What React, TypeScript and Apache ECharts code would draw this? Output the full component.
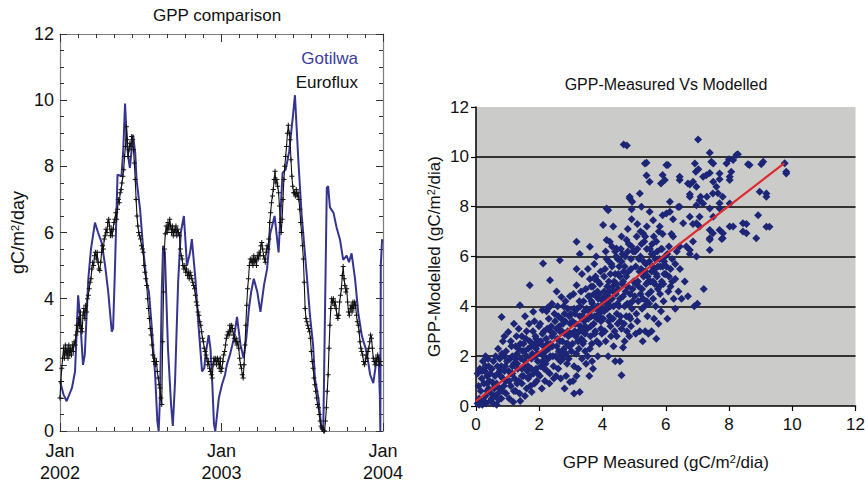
import React, { useEffect, useRef } from 'react';
import * as echarts from 'echarts';

// Left panel: daily GPP (day index from Jan 2002, gC/m2/day)
const gotilwa: [number, number][] = [
  [0,1.5],[8,1.1],[15,0.9],[27,1.3],[34,1.8],[41,4.1],[45,3.5],[52,2.0],[56,2.3],[64,4.6],[70,5.5],[79,6.3],[86,6.0],[94,5.7],[102,5.0],[109,4.2],[117,3.0],[120,3.1],[124,4.8],[130,7.75],[139,7.7],[143,8.5],[147,9.9],[151,8.8],[154,8.3],[158,7.95],[165,8.95],[170,8.4],[173,7.6],[181,6.7],[188,5.5],[196,4.5],[201,4.2],[207,3.2],[215,1.7],[220,0.3],[223,0],[226,1.0],[230,4.2],[233,5.6],[237,5.4],[244,2.5],[251,0.8],[255,0.15],[260,1.5],[267,4.5],[273,6.0],[280,6.5],[287,5.0],[294,5.4],[298,5.8],[306,4.6],[313,3.2],[321,1.8],[326,1.9],[330,2.4],[336,2.9],[340,2.5],[344,1.5],[348,0.2],[351,0],[359,1.0],[366,1.4],[373,1.7],[377,2.0],[384,2.3],[393,2.8],[400,3.45],[408,2.6],[415,2.2],[421,2.8],[427,3.7],[432,4.2],[438,4.6],[446,4.2],[453,3.6],[461,4.4],[468,4.9],[475,5.96],[485,6.5],[494,5.4],[503,7.8],[510,7.9],[518,8.45],[527,9.6],[531,10.15],[539,8.1],[546,6.56],[558,4.67],[565,3.48],[572,2.6],[576,1.6],[584,1.0],[591,0.05],[595,0],[603,7.35],[606,7.4],[610,6.76],[618,6.6],[625,6.16],[633,5.77],[640,5.17],[648,5.3],[653,5.1],[659,5.37],[667,4.58],[674,3.58],[682,2.89],[693,2.39],[701,1.7],[708,1.45],[716,2.2],[720,2.27],[723,1.0],[724,0],[725,5.0],[728,5.8]
];

const euroflux: [number, number][] = [
  [0,1.0],[2,1.5],[4,1.9],[6,2.2],[8,2.5],[10,2.2],[12,2.6],[14,2.3],[16,2.5],[18,2.2],[20,2.6],[22,2.3],[24,2.5],[26,2.3],[28,2.6],[30,2.4],[32,2.7],[34,2.6],[36,2.9],[38,3.2],[40,3.0],[42,3.4],[44,3.2],[46,3.6],[48,3.1],[50,3.0],[52,3.5],[54,3.7],[56,3.4],[58,3.8],[60,3.6],[62,4.0],
  [64,4.1],[66,4.3],[68,4.5],[70,4.6],[72,4.9],[74,5.1],[76,5.0],[78,5.3],[80,5.4],[82,5.2],[84,5.4],[86,5.1],[88,4.9],[90,4.85],[92,5.1],[94,5.4],[96,5.6],[98,5.5],
  [100,5.8],[102,5.9],[104,6.1],[106,6.0],[108,6.3],[110,6.4],[112,6.2],[114,5.9],[116,6.1],[118,5.9],[120,6.1],[122,6.3],[124,6.4],[126,6.6],[128,6.4],[130,6.7],[132,7.0],[134,6.9],[136,7.2],[138,7.3],[140,7.5],[142,7.7],[144,7.9],[146,8.3],[148,8.6],[150,9.2],[152,8.8],[154,8.3],
  [156,8.5],[158,8.7],[160,8.6],[162,8.9],[164,8.8],[166,8.5],[168,8.1],[170,7.6],[172,7.0],[174,6.5],[176,6.2],[178,6.0],[180,5.9],[182,5.8],[184,5.6],[186,5.5],[188,5.4],[190,5.0],[192,4.8],[194,4.6],[196,4.4],[198,4.0],[200,3.7],[202,3.4],[204,3.1],[206,2.9],[208,2.6],[210,2.3],[212,2.1],[214,2.2],[216,2.0],[218,2.1],[220,1.8],[222,1.6],[224,1.4],[226,1.3],[228,1.0],[230,0.8],[232,2.7],[234,4.2],[236,5.5],
  [238,5.96],[240,6.2],[242,6.0],[244,6.3],[246,6.1],[248,6.4],[250,6.2],[252,6.0],[254,6.2],[256,5.9],[258,6.1],[260,6.0],[262,6.2],[264,5.9],[266,6.1],[268,6.0],[270,5.9],[272,5.5],[274,5.3],[276,5.2],[278,5.0],[280,4.9],[282,5.0],[284,4.8],[286,4.9],[288,4.7],[290,4.8],[292,4.6],[294,4.8],[296,4.7],[298,4.6],
  [300,4.5],[302,4.4],[304,4.3],[306,4.1],[308,3.9],[310,3.8],[312,3.6],[314,3.5],[316,3.3],[318,3.2],[320,3.0],[322,2.8],[324,2.7],[326,2.5],[328,2.4],[330,2.3],[332,2.2],[334,2.0],[336,2.1],[338,1.9],[340,1.8],[342,1.7],[344,1.6],[346,2.0],[348,2.2],[350,2.1],[352,2.2],[354,2.0],[356,2.2],[358,2.1],[360,1.9],[362,2.2],[364,1.8],[366,1.9],[368,2.1],[370,2.3],[372,2.4],[374,2.6],[376,2.8],[378,2.9],[380,3.0],[382,2.9],[384,3.2],[386,3.0],[388,3.2],[390,3.1],[392,2.9],[394,2.8],[396,2.7],[398,2.8],[400,2.6],[402,2.7],[404,2.5],[406,2.2],[408,2.0],[410,1.9],[412,1.7],[414,1.6],[416,2.0],[418,2.6],[420,3.2],[422,3.8],
  [424,4.3],[426,4.6],[428,5.0],[430,5.2],[432,5.1],[434,5.2],[436,5.0],[438,5.3],[440,5.1],[442,5.2],[444,5.0],[446,5.3],[448,5.2],[450,5.4],[452,5.3],[454,5.6],[456,5.7],[458,5.5],[460,5.3],[462,5.2],[464,5.1],[466,5.4],[468,5.6],[470,5.5],[472,5.8],[474,6.3],[476,6.6],[478,6.9],[480,7.1],[482,7.3],[484,7.6],[486,7.85],[488,7.5],[490,7.6],[492,7.4],[494,7.2],[496,6.8],[498,6.3],[500,6.0],[502,6.4],
  [504,7.0],[506,7.6],[508,8.0],[510,8.3],[512,8.6],[514,9.0],[516,9.24],[518,9.0],[520,8.8],[522,8.2],[524,7.7],[526,7.4],[528,7.2],[530,7.2],[532,7.1],[534,7.3],[536,7.1],[538,7.2],[540,7.0],[542,6.7],[544,6.3],[546,6.0],[548,5.6],[550,5.2],[552,4.5],[554,3.7],[556,3.4],[558,3.3],[560,3.2],[562,3.1],[564,3.0],[566,2.8],[568,2.4],
  [570,2.1],[572,1.9],[574,1.6],[576,1.4],[578,1.2],[580,1.0],[582,0.8],[584,0.7],[586,0.5],[588,0.3],[590,0.15],[592,0.1],[594,0.05],[596,0],[598,0],[600,0.3],[602,0.7],[604,1.2],[606,1.7],[608,2.5],[610,3.2],[612,3.7],[614,4.0],[616,3.9],[618,4.0],[620,3.8],[622,3.9],[624,3.7],[626,3.5],[628,3.4],[630,3.5],[632,3.9],[634,4.1],[636,4.3],[638,4.7],[640,4.97],[642,4.6],
  [644,4.4],[646,4.2],[648,4.3],[650,3.9],[652,3.6],[654,3.5],[656,3.7],[658,3.8],[660,3.6],[662,3.9],[664,3.7],[666,3.9],[668,3.8],[670,3.5],[672,3.3],[674,3.2],[676,3.0],[678,2.7],[680,2.5],[682,2.4],[684,2.3],[686,2.1],[688,2.0],[690,2.1],[692,2.3],[694,2.2],[696,2.4],[698,2.5],[700,2.7],[702,2.9],[704,2.8],[706,2.5],[708,2.2],[710,2.1],[712,2.0],[714,2.2],[716,2.1],[718,2.3],[720,2.2],[722,2.0],[724,2.1]
];

const yearTickLabels = ['Jan\n2002', 'Jan\n2003', 'Jan\n2004'];

// Right panel: measured vs modelled GPP (gC/m2/dia)
const measuredVsModelled: [number, number][] = [
  [0.05,0.1],[0.1,0.3],[0.15,0.6],[0.2,0.05],[0.25,0.9],[0.3,0.4],[0.35,1.2],[0.4,0.7],[0.45,0.2],[0.08,0.8],[0.12,1.5],[0.18,1.1],[0.22,1.8],[0.28,1.4],[0.32,0.1],[0.38,1.9],[0.42,1.0],[0.48,0.5],[0.05,1.3],[0.3,2.0],[0.15,0.2],[0.4,1.6],[0.45,1.3],[0.1,0.05],[0.35,0.6],[0.25,0.2],
  [0.55,0.1],[0.6,0.4],[0.65,0.9],[0.7,1.3],[0.75,0.7],[0.8,1.6],[0.85,1.1],[0.9,2.0],[0.95,0.5],[0.55,1.8],[0.6,1.2],[0.65,0.05],[0.7,2.3],[0.75,1.9],[0.8,0.3],[0.85,2.6],[0.9,1.4],[0.95,1.0],[0.58,0.7],[0.68,1.6],[0.78,1.2],[0.88,0.8],[0.98,1.8],[0.62,2.0],[0.72,0.25],[0.82,2.1],[0.92,1.6],[0.52,0.95],[0.9,2.8],[0.81,3.57],
  [0.2,1.4],[0.35,0.9],[0.5,1.5],[0.6,0.8],[0.75,1.4],[0.85,0.6],[0.95,2.2],[0.5,0.3],[0.3,1.6],[0.7,0.5],
  [1.02,2.97],[1.05,0.3],[1.1,0.8],[1.15,1.3],[1.2,1.7],[1.25,0.6],[1.3,2.1],[1.35,1.0],[1.4,2.5],[1.45,1.5],[1.39,4.04],[1.08,1.9],[1.12,2.4],[1.18,0.16],[1.22,1.1],[1.28,2.8],[1.32,1.5],[1.38,0.5],[1.42,1.9],[1.48,2.2],[1.03,1.4],[1.15,2.0],[1.25,2.4],[1.35,3.1],[1.45,0.9],[1.5,1.2],[1.1,2.6],[1.3,0.9],[1.2,3.3],[1.45,2.8],
  [1.52,1.6],[1.55,0.4],[1.6,2.0],[1.65,1.1],[1.7,2.6],[1.75,1.5],[1.8,3.0],[1.85,0.9],[1.9,2.3],[1.95,1.8],[1.7,4.85],[1.81,3.78],[1.76,0.56],[1.58,2.7],[1.62,1.4],[1.68,3.3],[1.72,0.8],[1.78,2.1],[1.82,1.3],[1.88,2.8],[1.92,1.0],[1.98,2.5],[1.55,3.6],[1.65,2.3],[1.75,1.9],[1.85,3.4],[1.95,2.1],[1.6,0.7],[1.9,1.5],[1.99,3.2],[1.53,2.2],[1.87,2.0],
  [1.05,1.0],[1.15,1.6],[1.25,1.9],[1.35,2.3],[1.45,1.2],[1.55,1.8],[1.65,1.6],[1.75,2.4],[1.85,2.5],[1.95,1.3],[1.1,1.3],[1.3,1.7],[1.5,2.5],[1.7,1.2],[1.9,2.7],[1.6,3.0],[1.4,0.2],[1.2,0.6],
  [2.02,1.2],[2.05,2.6],[2.1,1.8],[2.15,3.0],[2.2,2.2],[2.25,1.4],[2.3,3.5],[2.35,2.0],[2.4,2.8],[2.45,1.6],[2.34,5.05],[2.31,3.95],[2.12,5.72],[2.08,0.7],[2.18,1.0],[2.22,2.7],[2.28,1.9],[2.32,0.9],[2.38,3.2],[2.42,2.4],[2.48,3.7],[2.03,3.3],[2.13,2.4],[2.23,3.8],[2.33,1.3],[2.43,2.0],[2.06,2.1],[2.16,1.5],[2.26,2.5],[2.36,3.0],[2.46,1.1],[2.27,3.95],[2.1,3.85],[2.4,4.1],
  [2.52,2.0],[2.55,3.1],[2.6,1.5],[2.65,2.6],[2.7,3.5],[2.75,1.9],[2.8,2.9],[2.85,1.2],[2.9,3.9],[2.95,2.4],[2.7,4.37],[2.6,3.6],[2.65,5.85],[2.97,0.96],[2.58,4.0],[2.62,2.2],[2.68,1.1],[2.72,3.0],[2.78,2.3],[2.82,3.4],[2.88,1.7],[2.92,2.8],[2.98,3.3],[2.53,1.2],[2.63,3.2],[2.73,2.6],[2.83,4.2],[2.93,1.9],[2.57,2.7],[2.67,1.8],[2.77,4.0],[2.87,2.5],[2.97,4.4],[2.8,0.7],[2.55,4.6],[2.9,3.0],
  [2.05,1.6],[2.15,2.0],[2.25,3.1],[2.35,2.5],[2.45,2.9],[2.55,2.4],[2.65,3.0],[2.75,3.3],[2.85,2.1],[2.95,3.6],[2.1,2.9],[2.3,2.3],[2.5,3.4],[2.7,2.1],[2.9,2.5],[2.2,1.7],[2.6,1.9],[2.8,3.7],
  [3.02,2.2],[3.05,3.4],[3.1,1.6],[3.15,2.8],[3.2,3.9],[3.25,2.3],[3.3,3.2],[3.35,1.9],[3.4,4.2],[3.45,2.9],[3.18,4.85],[3.28,0.56],[3.1,0.5],[3.18,6.59],[3.28,6.1],[3.18,5.5],[3.08,4.5],[3.12,3.0],[3.18,1.2],[3.22,2.6],[3.28,3.6],[3.32,4.6],[3.38,2.5],[3.42,3.4],[3.48,1.7],[3.03,2.9],[3.13,3.7],[3.23,1.5],[3.33,2.7],[3.43,3.8],[3.07,1.0],[3.17,2.1],[3.27,4.2],[3.37,3.0],[3.47,4.7],[3.45,2.2],[3.35,5.3],[3.0,3.7],
  [3.52,3.1],[3.55,4.4],[3.6,2.3],[3.65,3.6],[3.7,4.8],[3.75,2.9],[3.8,3.9],[3.85,2.0],[3.9,4.5],[3.95,3.4],[3.6,5.1],[3.6,6.39],[3.58,1.2],[3.62,2.8],[3.68,4.1],[3.72,3.3],[3.78,5.2],[3.82,2.6],[3.88,3.7],[3.92,4.9],[3.98,2.9],[3.53,2.0],[3.63,3.2],[3.73,4.5],[3.83,3.5],[3.93,4.0],[3.57,3.8],[3.67,1.8],[3.77,3.0],[3.87,4.3],[3.97,3.8],[3.54,5.5],[3.64,4.8],[3.74,5.7],[3.84,4.6],[3.94,5.4],[3.7,1.5],[3.9,2.5],[3.8,6.0],[3.99,4.3],[3.66,2.5],[3.86,5.0],
  [3.05,2.5],[3.15,3.3],[3.25,3.0],[3.35,3.6],[3.45,3.2],[3.55,3.5],[3.65,4.2],[3.75,3.6],[3.85,4.0],[3.95,3.1],[3.1,3.9],[3.3,4.0],[3.5,3.9],[3.7,3.9],[3.9,3.6],[3.2,2.9],[3.4,2.6],[3.6,4.4],[3.8,4.4],[3.75,5.1],
  [4.02,3.5],[4.05,4.6],[4.1,2.6],[4.15,3.9],[4.2,5.0],[4.25,3.2],[4.3,4.3],[4.35,2.4],[4.4,5.3],[4.45,3.7],[4.02,7.26],[4.13,7.93],[4.18,7.86],[4.34,7.2],[4.23,6.59],[4.44,6.32],[4.13,6.66],[4.4,1.8],[4.08,5.5],[4.12,4.1],[4.18,2.0],[4.22,3.6],[4.28,5.7],[4.32,4.8],[4.38,3.0],[4.42,4.5],[4.48,5.9],[4.03,4.2],[4.13,5.9],[4.23,4.6],[4.33,3.5],[4.43,6.0],[4.07,3.0],[4.17,4.4],[4.27,2.8],[4.37,5.0],[4.47,4.1],[4.1,6.2],[4.3,6.4],[4.05,5.2],[4.25,5.3],[4.45,2.8],[4.35,4.0],[4.2,3.4],[4.48,3.3],
  [4.52,4.0],[4.55,5.2],[4.6,3.1],[4.65,4.4],[4.7,5.6],[4.75,3.6],[4.8,4.8],[4.85,2.8],[4.9,5.9],[4.95,4.2],[4.6,1.23],[4.55,1.8],[4.65,2.35],[4.86,8.33],[4.94,8.2],[4.92,7.9],[4.92,7.5],[4.76,6.66],[4.67,10.5],[4.77,10.45],[4.86,8.4],[4.58,6.3],[4.62,4.9],[4.68,3.3],[4.72,6.0],[4.78,4.1],[4.82,5.4],[4.88,3.5],[4.92,6.4],[4.98,5.0],[4.53,5.6],[4.63,6.1],[4.73,4.6],[4.83,6.5],[4.93,3.9],[4.57,3.6],[4.67,5.4],[4.77,3.0],[4.87,4.5],[4.97,6.2],[4.6,6.8],[4.8,7.1],[4.7,2.6],[4.9,3.2],[4.5,4.7],
  [4.05,3.8],[4.15,4.8],[4.25,4.0],[4.35,4.6],[4.45,4.9],[4.55,4.3],[4.65,5.0],[4.75,5.2],[4.85,4.1],[4.95,4.7],[4.1,4.4],[4.3,5.6],[4.5,5.3],[4.7,4.0],[4.9,5.5],[4.2,5.8],[4.4,6.2],[4.6,5.8],[4.8,6.2],[4.2,4.2],[4.0,3.9],[4.55,3.4],[4.85,3.6],
  [5.02,4.4],[5.05,5.6],[5.1,3.4],[5.15,4.8],[5.2,6.0],[5.25,3.9],[5.3,5.2],[5.35,3.0],[5.4,6.3],[5.45,4.5],[5.08,6.8],[5.28,6.93],[5.1,7.3],[5.18,8.53],[5.23,8.0],[5.39,9.76],[5.39,9.25],[5.34,9.73],[5.49,9.0],[5.49,7.8],[5.12,5.0],[5.18,3.0],[5.22,5.5],[5.28,4.3],[5.32,6.6],[5.38,4.9],[5.42,3.6],[5.48,5.8],[5.03,6.2],[5.13,4.2],[5.23,6.5],[5.33,4.0],[5.43,5.2],[5.07,3.7],[5.17,5.4],[5.27,2.6],[5.37,5.7],[5.47,4.1],[5.2,7.0],[5.4,7.2],[5.45,2.9],[5.05,2.9],
  [5.52,5.0],[5.55,6.1],[5.6,4.3],[5.65,5.5],[5.7,6.6],[5.75,4.7],[5.8,5.9],[5.85,3.8],[5.9,6.9],[5.95,5.3],[5.6,7.45],[5.81,7.2],[5.7,2.7],[5.55,3.0],[5.97,9.07],[5.9,9.27],[5.85,8.93],[5.9,7.66],[5.58,5.6],[5.62,6.8],[5.68,4.0],[5.72,5.2],[5.78,7.0],[5.82,4.5],[5.88,6.3],[5.92,4.9],[5.98,6.0],[5.53,4.6],[5.63,3.5],[5.73,6.2],[5.83,5.6],[5.93,4.2],[5.57,6.5],[5.77,3.3],[5.87,5.0],[5.67,5.9],
  [5.05,4.9],[5.15,5.9],[5.25,4.7],[5.35,5.4],[5.45,5.0],[5.55,5.4],[5.65,4.9],[5.75,5.6],[5.85,6.3],[5.95,5.8],[5.1,6.3],[5.3,5.8],[5.5,6.3],[5.7,5.3],[5.9,5.6],[5.2,4.5],[5.4,4.2],[5.6,5.0],[5.8,4.8],[5.35,6.8],[5.6,6.1],
  [6.02,5.6],[6.05,3.5],[6.1,6.4],[6.15,4.8],[6.2,5.9],[6.25,4.3],[6.3,5.1],[6.35,6.2],[6.4,4.6],[6.45,5.5],[6.02,9.67],[6.07,9.67],[6.13,8.2],[6.13,7.8],[6.02,7.73],[6.23,7.5],[6.23,6.8],[6.44,6.4],[6.44,8.0],[6.44,9.07],[6.44,9.2],[6.39,7.99],[6.0,5.3],[6.08,4.6],[6.18,6.9],[6.3,3.9],
  [6.1,5.2],[6.2,5.0],[6.3,5.7],[6.05,6.1],[6.15,5.5],
  [6.55,7.33],[6.65,6.4],[6.76,6.26],[6.76,7.6],[6.86,6.6],[6.76,6.1],[6.97,6.0],[6.76,8.4],[6.76,8.5],[6.7,8.93],[6.76,8.89],[6.86,9.0],[6.97,8.8],[6.92,9.73],[6.95,9.4],[6.97,7.33],[6.97,8.06],[6.86,7.3],[6.5,4.3],[6.7,4.4],[6.9,4.0],[6.6,5.0],
  [7.02,10.7],[7.03,9.5],[7.07,7.6],[7.07,8.26],[7.07,7.2],[7.1,8.4],[7.18,9.2],[7.18,8.13],[7.28,9.26],[7.3,8.4],[7.39,10.16],[7.39,9.35],[7.39,7.93],[7.39,7.06],[7.39,6.73],[7.39,6.26],[7.39,6.67],[7.44,9.8],[7.49,8.53],[7.49,6.93],[7.5,9.73],[7.5,9.0],[7.5,7.6],[7.0,4.1],[7.2,4.7],
  [7.65,8.54],[7.7,9.1],[7.7,8.14],[7.7,7.93],[7.7,7.06],[7.77,6.7],[7.8,8.4],[7.8,6.73],[7.81,6.93],[7.92,9.73],[7.7,9.33],[7.6,8.8],
  [8.0,9.9],[8.02,9.07],[8.02,9.2],[8.02,8.13],[8.02,7.2],[8.07,9.4],[8.13,9.87],[8.13,7.2],[8.23,10.07],[8.28,10.1],[8.44,7.0],[8.44,7.33],[8.55,7.3],[8.55,6.93],[8.6,9.7],[8.65,9.67],[8.86,6.73],[8.92,7.66],[8.97,8.6],[9.02,9.7],[9.08,9.8],[9.18,8.53],[9.18,8.4],[9.18,7.19],[9.28,7.19],[9.76,9.74],[9.81,9.4],[9.81,9.33]
];

const trendLine: [number, number][] = [[0, 0.2], [9.75, 9.75]];

const FONT = '"Liberation Sans", Arial, Helvetica, sans-serif';
const FRAME = '#7d7d7d';
const TICK = '#333';
const BLUE = '#35358f';
const PLUS = 'path://M4,0h2v4h4v2h-4v4h-2v-4h-4v-2h4z';

const supRich = {
  s: { fontSize: 11, verticalAlign: 'top', fontFamily: FONT, color: '#111', lineHeight: 18 },
};

function buildOption(): any {
  const leftX = (pos: 'top' | 'bottom') => ({
    gridIndex: 0,
    type: 'value',
    min: 0,
    max: 730,
    interval: 365,
    position: pos,
    axisLine: { show: true, onZero: false, lineStyle: { color: FRAME, width: 1.2 } },
    axisTick: { show: true, inside: true, length: 8, lineStyle: { color: TICK, width: 1 } },
    minorTick: { show: true, splitNumber: 9, length: 4, lineStyle: { color: TICK, width: 1 } },
    splitLine: { show: false },
    axisLabel: pos === 'bottom'
      ? {
          show: true,
          formatter: (v: number) => yearTickLabels[Math.round(v / 365)] ?? '',
          fontSize: 18,
          lineHeight: 22,
          color: '#111',
          margin: 9,
          fontFamily: FONT,
          showMinLabel: true,
          showMaxLabel: true,
        }
      : { show: false },
  });
  const leftY = (pos: 'left' | 'right') => ({
    gridIndex: 0,
    type: 'value',
    min: 0,
    max: 12,
    interval: 2,
    position: pos,
    axisLine: { show: true, onZero: false, lineStyle: { color: FRAME, width: 1.2 } },
    axisTick: { show: true, inside: true, length: 7, lineStyle: { color: TICK, width: 1 } },
    minorTick: { show: true, splitNumber: 4, length: 4, lineStyle: { color: TICK, width: 1 } },
    splitLine: { show: false },
    axisLabel: pos === 'left'
      ? { show: true, fontSize: 18, color: '#111', margin: 6, fontFamily: FONT }
      : { show: false },
    ...(pos === 'left'
      ? {
          name: 'gC/m{s|2}/day',
          nameLocation: 'middle',
          nameRotate: 90,
          nameGap: 33,
          nameTextStyle: { fontSize: 18, color: '#111', fontFamily: FONT, rich: supRich },
        }
      : {}),
  });

  return {
    animation: false,
    backgroundColor: '#ffffff',
    textStyle: { fontFamily: FONT },
    grid: [
      { left: 60, top: 34, width: 323, height: 403, show: false },
      { left: 476, top: 107, width: 380, height: 299, show: true, backgroundColor: '#cbcbc9', borderWidth: 0 },
    ],
    xAxis: [
      leftX('bottom'),
      leftX('top'),
      {
        gridIndex: 1,
        type: 'value',
        min: 0,
        max: 12,
        interval: 2,
        axisLine: { show: true, onZero: false, lineStyle: { color: '#000', width: 1.5 } },
        axisTick: { show: true, length: 5, lineStyle: { color: '#000', width: 1.2 } },
        splitLine: { show: false },
        axisLabel: { fontSize: 17, color: '#111', margin: 10, fontFamily: FONT },
        name: 'GPP Measured (gC/m{s|2}/dia)',
        nameLocation: 'middle',
        nameGap: 47,
        nameTextStyle: { fontSize: 17, color: '#111', fontFamily: FONT, rich: supRich },
      },
    ],
    yAxis: [
      leftY('left'),
      leftY('right'),
      {
        gridIndex: 1,
        type: 'value',
        min: 0,
        max: 12,
        interval: 2,
        axisLine: { show: true, onZero: false, lineStyle: { color: '#000', width: 1.5 } },
        axisTick: { show: true, length: 5, lineStyle: { color: '#000', width: 1.2 } },
        splitLine: { show: true, showMinLine: false, showMaxLine: false, lineStyle: { color: '#000', width: 1.5 } },
        axisLabel: { fontSize: 17, color: '#111', margin: 7, fontFamily: FONT },
        name: 'GPP-Modelled (gC/m{s|2}/dia)',
        nameLocation: 'middle',
        nameRotate: 90,
        nameGap: 33,
        nameTextStyle: { fontSize: 17, color: '#111', fontFamily: FONT, rich: supRich },
      },
    ],
    graphic: [
      { type: 'text', x: 217, y: 15, style: { text: 'GPP comparison', fontSize: 17, fontFamily: FONT, fill: '#111', align: 'center', verticalAlign: 'middle' } },
      { type: 'text', x: 358, y: 58, style: { text: 'Gotilwa', fontSize: 17, fontFamily: FONT, fill: '#3b3ba0', align: 'right', verticalAlign: 'middle' } },
      { type: 'text', x: 358, y: 82, style: { text: 'Euroflux', fontSize: 17, fontFamily: FONT, fill: '#111', align: 'right', verticalAlign: 'middle' } },
      { type: 'text', x: 666, y: 84, style: { text: 'GPP-Measured Vs Modelled', fontSize: 16, fontFamily: FONT, fill: '#111', align: 'center', verticalAlign: 'middle' } },
    ],
    series: [
      {
        name: 'Gotilwa',
        type: 'line',
        xAxisIndex: 0,
        yAxisIndex: 0,
        data: gotilwa,
        showSymbol: false,
        lineStyle: { color: BLUE, width: 2 },
        z: 2,
      },
      {
        name: 'Euroflux',
        type: 'line',
        xAxisIndex: 0,
        yAxisIndex: 0,
        data: euroflux,
        symbol: PLUS,
        symbolSize: 5,
        showAllSymbol: true,
        itemStyle: { color: '#111' },
        lineStyle: { color: '#111', width: 1.1 },
        z: 3,
      },
      {
        name: 'Measured vs Modelled',
        type: 'scatter',
        xAxisIndex: 2,
        yAxisIndex: 2,
        data: measuredVsModelled,
        symbol: 'diamond',
        symbolSize: 8,
        itemStyle: { color: '#1d2577', opacity: 1 },
        z: 3,
      },
      {
        name: 'Trend',
        type: 'line',
        xAxisIndex: 2,
        yAxisIndex: 2,
        data: trendLine,
        showSymbol: false,
        lineStyle: { color: '#dc2a30', width: 2.2 },
        z: 5,
      },
    ],
  };
}

export default function App() {
  const ref = useRef<HTMLDivElement>(null);
  useEffect(() => {
    if (!ref.current) return;
    const chart = echarts.init(ref.current, undefined, { renderer: 'svg' });
    chart.setOption(buildOption());
    return () => chart.dispose();
  }, []);
  return (
    <div
      ref={ref}
      style={{ position: 'fixed', left: 0, top: 0, width: 868, height: 484, background: '#fff' }}
    />
  );
}
